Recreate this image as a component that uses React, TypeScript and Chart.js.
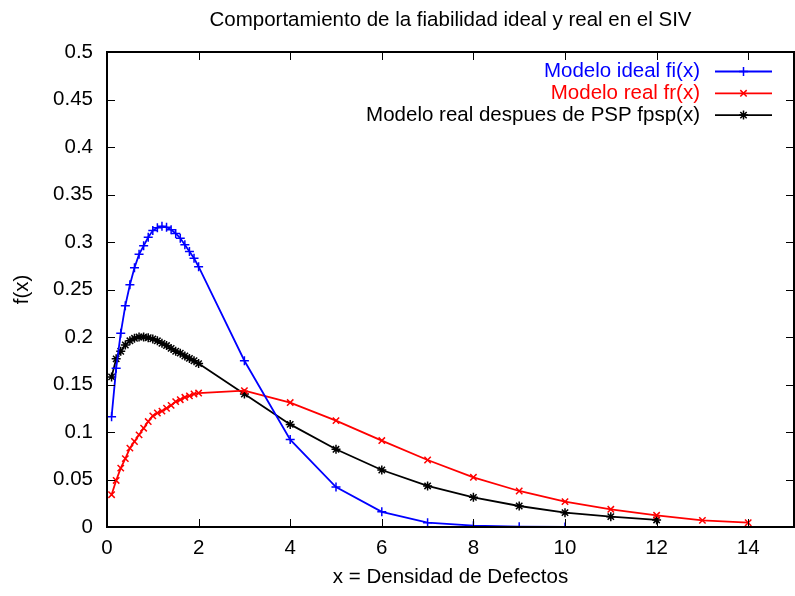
import { useEffect, useRef } from 'react';
import { Chart, registerables } from 'chart.js';

Chart.register(...registerables);

const TITLE = 'Comportamiento de la fiabilidad ideal y real en el SIV';
const X_LABEL = 'x = Densidad de Defectos';
const Y_LABEL = 'f(x)';

const X_TICKS = [0, 2, 4, 6, 8, 10, 12, 14];
const Y_TICKS = [0, 0.05, 0.1, 0.15, 0.2, 0.25, 0.3, 0.35, 0.4, 0.45, 0.5];
const Y_TICK_LABELS = ['0', '0.05', '0.1', '0.15', '0.2', '0.25', '0.3', '0.35', '0.4', '0.45', '0.5'];

const SERIES_NAMES = ['Modelo ideal fi(x)', 'Modelo real fr(x)', 'Modelo real despues de PSP fpsp(x)'];
const SERIES_COLORS = ['#0000ff', '#ff0000', '#000000'];

const X_IDEAL = [0.1, 0.2, 0.3, 0.4, 0.5, 0.6, 0.7, 0.8, 0.9, 1.0, 1.1, 1.2, 1.3, 1.4, 1.5, 1.6, 1.7, 1.8, 1.9, 2.0, 3, 4, 5, 6, 7, 8, 9, 10];
const FI = [0.116, 0.167, 0.204, 0.233, 0.255, 0.273, 0.287, 0.296, 0.305, 0.312, 0.315, 0.3165, 0.3155, 0.313, 0.309, 0.304, 0.297, 0.29, 0.283, 0.274, 0.175, 0.092, 0.042, 0.016, 0.0045, 0.0014, 0.0003, 0.0];

const X_REAL = [0.1, 0.2, 0.3, 0.4, 0.5, 0.6, 0.7, 0.8, 0.9, 1.0, 1.1, 1.2, 1.3, 1.4, 1.5, 1.6, 1.7, 1.8, 1.9, 2.0, 3, 4, 5, 6, 7, 8, 9, 10, 11, 12, 13, 14];
const FR = [0.034, 0.049, 0.062, 0.072, 0.083, 0.09, 0.097, 0.104, 0.111, 0.117, 0.12, 0.122, 0.125, 0.128, 0.132, 0.134, 0.1365, 0.138, 0.14, 0.141, 0.1435, 0.131, 0.112, 0.091, 0.0705, 0.0523, 0.0379, 0.0267, 0.0186, 0.0123, 0.007, 0.0045];

const X_PSP = [0.1, 0.2, 0.3, 0.4, 0.5, 0.6, 0.7, 0.8, 0.9, 1.0, 1.1, 1.2, 1.3, 1.4, 1.5, 1.6, 1.7, 1.8, 1.9, 2.0, 3, 4, 5, 6, 7, 8, 9, 10, 11, 12];
const FPSP = [0.158, 0.177, 0.185, 0.1916, 0.196, 0.1986, 0.2, 0.2, 0.1993, 0.198, 0.196, 0.1933, 0.191, 0.188, 0.185, 0.183, 0.18, 0.1775, 0.175, 0.172, 0.14, 0.108, 0.0818, 0.06, 0.0432, 0.0312, 0.0221, 0.0151, 0.0109, 0.0074];

const FONT = '"Liberation Sans", Arial, Helvetica, sans-serif';
const FS = 20.5;

function drawMarker(ctx: CanvasRenderingContext2D, style: string, x: number, y: number, r: number) {
  ctx.beginPath();
  if (style === 'cross' || style === 'star') {
    ctx.moveTo(x - r, y); ctx.lineTo(x + r, y);
    ctx.moveTo(x, y - r); ctx.lineTo(x, y + r);
  }
  if (style === 'crossRot' || style === 'star') {
    const d = r * 0.7071;
    ctx.moveTo(x - d, y - d); ctx.lineTo(x + d, y + d);
    ctx.moveTo(x - d, y + d); ctx.lineTo(x + d, y - d);
  }
  ctx.stroke();
}

const framePlugin = {
  id: 'gnuframe',
  afterDatasetsDraw(chart: any) {
    const { ctx, chartArea: a, scales } = chart;
    const xs = scales.x, ys = scales.y;
    ctx.save();
    ctx.strokeStyle = '#000';
    ctx.lineWidth = 2;
    ctx.strokeRect(a.left, a.top, a.right - a.left, a.bottom - a.top);
    ctx.lineWidth = 1;
    const tl = 8;
    ctx.beginPath();
    X_TICKS.forEach((v) => {
      const px = Math.round(xs.getPixelForValue(v)) + 0.5;
      ctx.moveTo(px, a.bottom); ctx.lineTo(px, a.bottom - tl);
      ctx.moveTo(px, a.top); ctx.lineTo(px, a.top + tl);
    });
    Y_TICKS.forEach((v) => {
      const py = Math.round(ys.getPixelForValue(v)) + 0.5;
      ctx.moveTo(a.left, py); ctx.lineTo(a.left + tl, py);
      ctx.moveTo(a.right, py); ctx.lineTo(a.right - tl, py);
    });
    ctx.stroke();
    ctx.restore();
  },
};

const legendPlugin = {
  id: 'gnulegend',
  afterDraw(chart: any) {
    const { ctx } = chart;
    ctx.save();
    ctx.font = `${FS}px ${FONT}`;
    ctx.textAlign = 'right';
    ctx.textBaseline = 'middle';
    chart.data.datasets.forEach((ds: any, i: number) => {
      const y = 71.5 + i * 21.8;
      ctx.fillStyle = ds.borderColor;
      ctx.fillText(ds.label, 700, y);
      ctx.strokeStyle = ds.borderColor;
      ctx.lineWidth = 1.8;
      ctx.beginPath();
      ctx.moveTo(715, y); ctx.lineTo(772, y);
      ctx.stroke();
      ctx.lineWidth = 1.5;
      drawMarker(ctx, ds.pointStyle, 743.5, y, 4.5);
    });
    ctx.restore();
  },
};

export default function App() {
  const ref = useRef<HTMLCanvasElement | null>(null);

  useEffect(() => {
    if (!ref.current) return;
    const mk = (xv: number[], yv: number[]) => xv.map((x, i) => ({ x, y: yv[i] }));
    const styles = ['cross', 'crossRot', 'star'];
    const datasets = [mk(X_IDEAL, FI), mk(X_REAL, FR), mk(X_PSP, FPSP)].map((d, i) => ({
      label: SERIES_NAMES[i],
      data: d,
      borderColor: SERIES_COLORS[i],
      backgroundColor: SERIES_COLORS[i],
      pointBorderColor: SERIES_COLORS[i],
      pointBackgroundColor: SERIES_COLORS[i],
      borderWidth: 1.8,
      pointStyle: styles[i],
      pointRadius: 4.5,
      pointBorderWidth: 1.5,
      tension: 0,
      fill: false,
    }));

    const chart = new Chart(ref.current, {
      type: 'line',
      data: { datasets },
      options: {
        animation: false,
        responsive: false,
        devicePixelRatio: 1,
        layout: { padding: { left: 0, right: 3, top: 0, bottom: 0 } },
        plugins: {
          legend: { display: false },
          tooltip: { enabled: false },
          title: {
            display: true,
            fullSize: false,
            text: TITLE,
            color: '#000',
            font: { family: FONT, size: FS, weight: 'normal', lineHeight: 1.2 },
            padding: { top: 8, bottom: 19.4 },
          },
        },
        scales: {
          x: {
            type: 'linear',
            min: 0,
            max: 15,
            grid: { display: false, drawTicks: false },
            border: { display: false },
            afterBuildTicks: (s: any) => { s.ticks = X_TICKS.map((v) => ({ value: v })); },
            afterFit: (s: any) => { s.height = 69; },
            ticks: {
              color: '#000',
              padding: 9,
              maxRotation: 0,
              autoSkip: false,
              font: { family: FONT, size: FS },
              callback: (v: any) => String(v),
            },
            title: {
              display: true,
              text: X_LABEL,
              color: '#000',
              font: { family: FONT, size: FS, lineHeight: 1.2 },
              padding: { top: 0, bottom: 6 },
            },
          },
          y: {
            type: 'linear',
            min: 0,
            max: 0.5,
            grid: { display: false, drawTicks: false },
            border: { display: false },
            afterBuildTicks: (s: any) => { s.ticks = Y_TICKS.map((v) => ({ value: v })); },
            afterFit: (s: any) => { s.width = 107; },
            ticks: {
              color: '#000',
              padding: 14,
              autoSkip: false,
              font: { family: FONT, size: FS },
              callback: (_v: any, i: number) => Y_TICK_LABELS[i],
            },
            title: {
              display: true,
              text: Y_LABEL,
              color: '#000',
              font: { family: FONT, size: FS, lineHeight: 1.2 },
              padding: { top: 10, bottom: 0 },
            },
          },
        },
      },
      plugins: [framePlugin, legendPlugin],
    } as any);
    return () => chart.destroy();
  }, []);

  return (
    <div style={{ position: 'fixed', left: 0, top: 0, width: 795, height: 596, overflow: 'hidden', background: '#fff' }}>
      <canvas ref={ref} width={800} height={596} style={{ display: 'block', width: 800, height: 596 }} />
    </div>
  );
}
